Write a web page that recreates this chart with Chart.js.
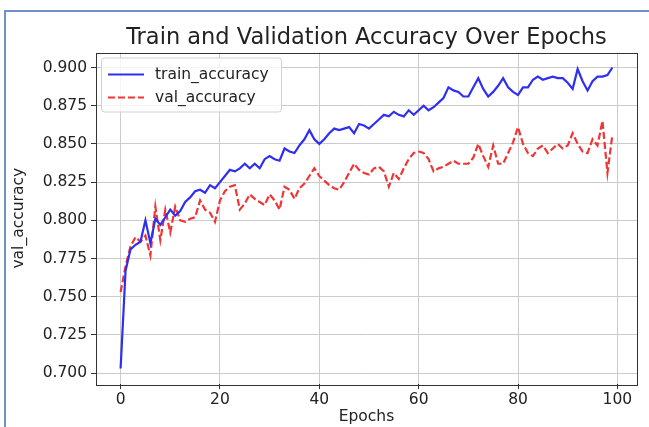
<!DOCTYPE html>
<html>
<head>
<meta charset="utf-8">
<script src="https://cdn.jsdelivr.net/npm/chart.js@4"></script>
<style>
  html, body { margin:0; padding:0; background:#fff; }
  #wrap { position:relative; width:649px; height:427px; overflow:hidden; }
  #frame { position:absolute; left:4px; top:10px; right:-4px; bottom:-4px;
           border-top:2px solid #6f90c8; border-left:2px solid #6f90c8; }
  #chart { position:absolute; left:0; top:0; }
</style>
</head>
<body>
<div id="wrap">
  <div id="frame"></div>
  <canvas id="chart" width="649" height="427"></canvas>
</div>
<script>
const EPOCHS = Array.from({length:100}, (_, i) => i);

const TRAIN_ACC = [
  0.703,0.767,0.781,0.784,0.786,0.800,0.785,0.801,0.797,0.802,
  0.807,0.803,0.806,0.812,0.815,0.819,0.820,0.818,0.823,0.821,
  0.825,0.829,0.833,0.832,0.834,0.837,0.834,0.837,0.834,0.840,
  0.842,0.840,0.839,0.847,0.845,0.844,0.849,0.853,0.859,0.853,
  0.850,0.853,0.857,0.860,0.859,0.860,0.861,0.857,0.863,0.862,
  0.860,0.863,0.866,0.869,0.868,0.871,0.869,0.868,0.872,0.869,
  0.872,0.875,0.872,0.874,0.877,0.880,0.887,0.885,0.884,0.881,
  0.881,0.887,0.893,0.886,0.881,0.884,0.888,0.893,0.887,0.884,
  0.882,0.887,0.887,0.892,0.894,0.892,0.893,0.894,0.893,0.893,
  0.890,0.886,0.899,0.891,0.885,0.891,0.894,0.894,0.895,0.900
];

const VAL_ACC = [
  0.753,0.770,0.783,0.789,0.786,0.790,0.777,0.809,0.787,0.807,
  0.792,0.809,0.800,0.799,0.801,0.802,0.813,0.807,0.805,0.799,
  0.813,0.819,0.822,0.823,0.807,0.811,0.817,0.814,0.812,0.810,
  0.817,0.813,0.807,0.822,0.820,0.814,0.821,0.824,0.829,0.834,
  0.829,0.826,0.823,0.821,0.820,0.825,0.831,0.837,0.833,0.831,
  0.830,0.834,0.835,0.832,0.822,0.831,0.827,0.834,0.840,0.844,
  0.845,0.844,0.840,0.832,0.834,0.835,0.837,0.839,0.837,0.837,
  0.837,0.841,0.850,0.842,0.835,0.849,0.837,0.837,0.844,0.851,
  0.861,0.850,0.844,0.842,0.847,0.849,0.844,0.847,0.850,0.847,
  0.849,0.857,0.850,0.845,0.844,0.853,0.849,0.865,0.831,0.856
];

const X_TICKS = [0, 20, 40, 60, 80, 100];
const Y_TICKS = [0.700, 0.725, 0.750, 0.775, 0.800, 0.825, 0.850, 0.875, 0.900];

const FONT = 'DejaVu Sans';
const TXT = '#222';

// box around the plot area, like matplotlib spines
const spines = {
  id: 'spines',
  afterDatasetsDraw(chart){
    const {ctx, chartArea:a} = chart;
    ctx.save();
    ctx.strokeStyle = '#333';
    ctx.lineWidth = 1;
    ctx.strokeRect(Math.round(a.left)+0.5, Math.round(a.top)+0.5,
                   Math.round(a.right-a.left), Math.round(a.bottom-a.top));
    ctx.restore();
  }
};

// legend drawn inside the axes, upper left
const innerLegend = {
  id: 'innerLegend',
  afterDraw(chart){
    const {ctx, chartArea:a} = chart;
    const x = a.left + 5, y = a.top + 5, w = 180, h = 54;
    ctx.save();
    ctx.fillStyle = 'rgba(255,255,255,0.8)';
    ctx.strokeStyle = '#d0d0d0';
    ctx.lineWidth = 1;
    ctx.beginPath();
    ctx.roundRect(x+0.5, y+0.5, w, h, 3);
    ctx.fill(); ctx.stroke();
    ctx.font = '15.5px "' + FONT + '"';
    ctx.textBaseline = 'middle';
    chart.data.datasets.forEach((ds, i) => {
      const ly = y + 17 + i*23;
      ctx.strokeStyle = ds.borderColor;
      ctx.lineWidth = ds.borderWidth;
      ctx.setLineDash(ds.borderDash || []);
      ctx.beginPath();
      ctx.moveTo(x + 7, ly); ctx.lineTo(x + 43, ly);
      ctx.stroke();
      ctx.setLineDash([]);
      ctx.fillStyle = TXT;
      ctx.fillText(ds.label, x + 54, ly);
    });
    ctx.restore();
  }
};

new Chart(document.getElementById('chart'), {
  type: 'line',
  data: {
    datasets: [
      {
        label: 'train_accuracy',
        data: EPOCHS.map((e, i) => ({x: e, y: TRAIN_ACC[i]})),
        borderColor: '#2f2ff0',
        borderWidth: 2.2,
        pointRadius: 0,
        tension: 0,
        fill: false
      },
      {
        label: 'val_accuracy',
        data: EPOCHS.map((e, i) => ({x: e, y: VAL_ACC[i]})),
        borderColor: '#f03535',
        borderWidth: 2.2,
        borderDash: [7, 3],
        pointRadius: 0,
        tension: 0,
        fill: false
      }
    ]
  },
  options: {
    responsive: false,
    animation: false,
    layout: { padding: { left: 0, right: 12, top: 0, bottom: 0 } },
    plugins: {
      legend: { display: false },
      tooltip: { enabled: false },
      title: {
        display: true,
        text: 'Train and Validation Accuracy Over Epochs',
        fullSize: false,
        color: TXT,
        font: { family: FONT, size: 22.5, weight: 'normal', lineHeight: 1.2 },
        padding: { top: 24.5, bottom: 1 }
      }
    },
    scales: {
      x: {
        type: 'linear',
        min: -4.95, max: 103.95,
        afterBuildTicks: s => { s.ticks = X_TICKS.map(v => ({value: v})); },
        afterFit: s => { s.height = 43; },
        border: { display: false },
        grid: { color: '#cbcbcb', lineWidth: 1, tickLength: 5, tickColor: '#333' },
        ticks: { color: TXT, font: { family: FONT, size: 15.5 }, padding: 2, maxRotation: 0 },
        title: { display: true, text: 'Epochs', color: TXT,
                 font: { family: FONT, size: 15.5 }, padding: { top: 0, bottom: 1 } }
      },
      y: {
        min: 0.6929, max: 0.9098,
        afterBuildTicks: s => { s.ticks = Y_TICKS.map(v => ({value: v})); },
        afterFit: s => { s.width = 96; },
        border: { display: false },
        grid: { color: '#cbcbcb', lineWidth: 1, tickLength: 5, tickColor: '#333' },
        ticks: { color: TXT, font: { family: FONT, size: 15.5 }, padding: 4,
                 callback: v => v.toFixed(3) },
        title: { display: true, text: 'val_accuracy', color: TXT,
                 font: { family: FONT, size: 15.5 }, padding: { top: 10, bottom: 10 } }
      }
    }
  },
  plugins: [spines, innerLegend]
});
</script>
</body>
</html>
